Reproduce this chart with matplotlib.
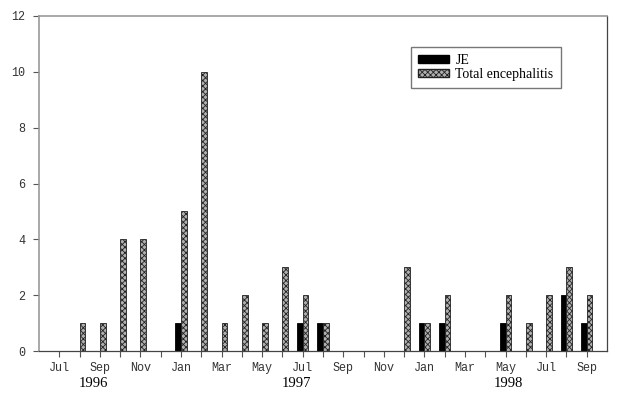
import numpy as np
import matplotlib
matplotlib.use('Agg')
import matplotlib.pyplot as plt
from matplotlib.patches import Patch

# monthly counts, Jul 1996 .. Sep 1998
months = ["Jul", "Aug", "Sep", "Oct", "Nov", "Dec",
          "Jan", "Feb", "Mar", "Apr", "May", "Jun", "Jul", "Aug", "Sep", "Oct", "Nov", "Dec",
          "Jan", "Feb", "Mar", "Apr", "May", "Jun", "Jul", "Aug", "Sep"]
je = [0, 0, 0, 0, 0, 0,
      1, 0, 0, 0, 0, 0, 1, 1, 0, 0, 0, 0,
      1, 1, 0, 0, 1, 0, 0, 2, 1]
total = [0, 1, 1, 4, 4, 0,
         5, 10, 1, 2, 1, 3, 2, 1, 0, 0, 0, 3,
         1, 2, 0, 0, 2, 1, 2, 3, 2]
years = ["1996", "1997", "1998"]
year_centers = [2.7, 12.7, 23.15]   # in month units from Jun 1996

plt.rcParams['hatch.linewidth'] = 0.6

fig = plt.figure(figsize=(6.38, 4.03), dpi=100)
ax = fig.add_axes([39 / 638, 1 - 351 / 403, 568 / 638, 335 / 403])

x = np.arange(1, len(months) + 1)
w = 0.28
ax.bar(x - w / 2, je, width=w, color="black", edgecolor="black", linewidth=0.6)
ax.bar(x + w / 2, total, width=w, color="#b0b0b0", edgecolor="#222222",
       hatch="xxxxxx", linewidth=0.6)

ax.set_xlim(0, 28)
ax.set_ylim(0, 12)

ax.set_yticks(range(0, 13, 2))
ax.set_yticklabels([str(v) for v in range(0, 13, 2)],
                   family="Liberation Mono", fontsize=8.5, color="#333333")
ax.set_xticks(x)
ax.set_xticklabels([m if i % 2 == 0 else "" for i, m in enumerate(months)],
                   family="Liberation Mono", fontsize=8.5, color="#333333")
ax.tick_params(axis="both", direction="out", length=4, width=0.8, color="#555555")
ax.tick_params(axis="y", pad=6)
ax.tick_params(axis="x", pad=4)

for side in ["left", "top"]:
    ax.spines[side].set_color("#999999")
    ax.spines[side].set_linewidth(1.2)
for side in ["bottom", "right"]:
    ax.spines[side].set_color("#444444")
    ax.spines[side].set_linewidth(0.9)

for yr, c in zip(years, year_centers):
    ax.text(c, -1.15, yr, ha="center", va="center", family="Liberation Serif",
            fontsize=10.5, transform=ax.transData)

handles = [Patch(facecolor="black", edgecolor="black", label="JE"),
           Patch(facecolor="#b0b0b0", edgecolor="#222222", hatch="xxxxxx",
                 label="Total encephalitis")]
leg = ax.legend(handles=handles, loc="upper left",
                bbox_to_anchor=(411 / 638, 1 - 47 / 403), bbox_transform=fig.transFigure,
                borderaxespad=0, fancybox=False, framealpha=1,
                prop={"family": "Liberation Serif", "size": 10},
                handlelength=2.2, handleheight=0.5, handletextpad=0.5,
                labelspacing=0.1, borderpad=0.5)
leg.get_frame().set_edgecolor("#777777")
leg.get_frame().set_linewidth(1.0)

plt.savefig("out.png", dpi=100)
plt.close()
